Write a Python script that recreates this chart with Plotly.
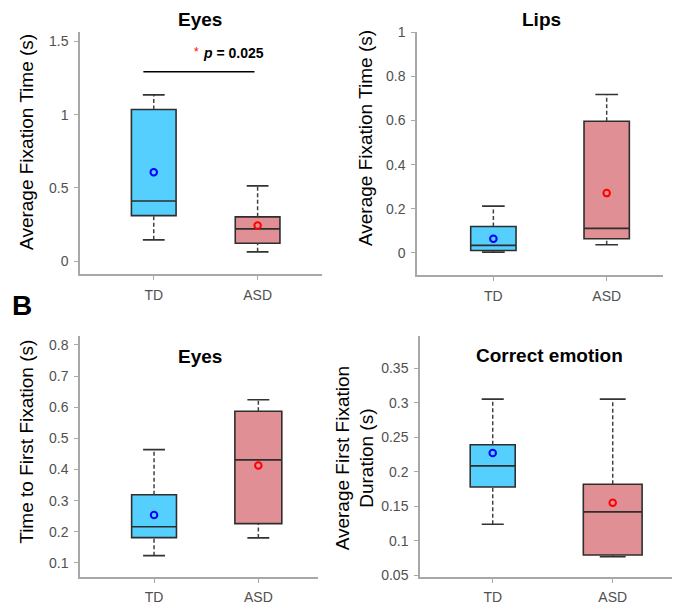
import plotly.graph_objects as go

# page is 680x613; the HTML body has an 8px default margin around the figure
PAGE_W, PAGE_H = 680, 613
OFF = 8
W, H = PAGE_W - 2 * OFF, PAGE_H - 2 * OFF

# ---------------- data ----------------
groups = ["TD", "ASD"]
group_pos = [0, 1]

# A: Average fixation time - Eyes
eyes_fix_lower = [0.145, 0.063]
eyes_fix_q1 = [0.310, 0.122]
eyes_fix_median = [0.410, 0.220]
eyes_fix_q3 = [1.035, 0.302]
eyes_fix_upper = [1.135, 0.513]
eyes_fix_mean = [0.607, 0.242]

# A: Average fixation time - Lips
lips_fix_lower = [0.004, 0.037]
lips_fix_q1 = [0.011, 0.064]
lips_fix_median = [0.034, 0.111]
lips_fix_q3 = [0.120, 0.597]
lips_fix_upper = [0.212, 0.718]
lips_fix_mean = [0.064, 0.271]

# B: Time to first fixation - Eyes
eyes_ttff_lower = [0.123, 0.180]
eyes_ttff_q1 = [0.181, 0.226]
eyes_ttff_median = [0.216, 0.431]
eyes_ttff_q3 = [0.319, 0.587]
eyes_ttff_upper = [0.464, 0.624]
eyes_ttff_mean = [0.254, 0.413]

# B: Average first fixation duration - Correct emotion
emo_ffd_lower = [0.124, 0.077]
emo_ffd_q1 = [0.178, 0.0795]
emo_ffd_median = [0.2085, 0.142]
emo_ffd_q3 = [0.239, 0.182]
emo_ffd_upper = [0.305, 0.305]
emo_ffd_mean = [0.227, 0.155]

# significance annotation (panel Eyes, fixation time)
sig_span = [-0.10, 0.97]
sig_level = 1.293
sig_text = "<b><i>p</i> = 0.025</b>"

# tick labels
ticks_eyes_fix = [0, 0.5, 1, 1.5]
ticklabels_eyes_fix = ["0", "0.5", "1", "1.5"]
ticks_lips_fix = [0, 0.2, 0.4, 0.6, 0.8, 1.0]
ticklabels_lips_fix = ["0", "0.2", "0.4", "0.6", "0.8", "1"]
ticks_eyes_ttff = [0.1, 0.2, 0.3, 0.4, 0.5, 0.6, 0.7, 0.8]
ticklabels_eyes_ttff = ["0.1", "0.2", "0.3", "0.4", "0.5", "0.6", "0.7", "0.8"]
ticks_emo_ffd = [0.05, 0.1, 0.15, 0.2, 0.25, 0.3, 0.35]
ticklabels_emo_ffd = ["0.05", "0.1", "0.15", "0.2", "0.25", "0.3", "0.35"]

# ---------------- style ----------------
fill_colors = ["#55CFFD", "#E09094"]
mean_colors = ["#0000FF", "#FF0000"]
FONT = "Arial, Liberation Sans, sans-serif"
AXIS_COLOR = "#A8A8A8"
TICK_FONT_COLOR = "#505050"


def fx(p):
    return min(max((p - OFF) / W, 0), 1)


def fy(p):
    return min(max(1 - (p - OFF) / H, 0), 1)


panels = [
    dict(lower=eyes_fix_lower, q1=eyes_fix_q1, med=eyes_fix_median, q3=eyes_fix_q3,
         upper=eyes_fix_upper, mean=eyes_fix_mean, widths=[0.43, 0.43], caps=[0.105, 0.105],
         xrange=[-0.71, 1.62], yrange=[-0.087, 1.567], tv=ticks_eyes_fix, tt=ticklabels_eyes_fix,
         xdom=[80, 322], ydom=[25, 273]),
    dict(lower=lips_fix_lower, q1=lips_fix_q1, med=lips_fix_median, q3=lips_fix_q3,
         upper=lips_fix_upper, mean=lips_fix_mean, widths=[0.40, 0.40], caps=[0.10, 0.10],
         xrange=[-0.674, 1.497], yrange=[-0.099, 1.003], tv=ticks_lips_fix, tt=ticklabels_lips_fix,
         xdom=[417, 663], ydom=[25, 274]),
    dict(lower=eyes_ttff_lower, q1=eyes_ttff_q1, med=eyes_ttff_median, q3=eyes_ttff_q3,
         upper=eyes_ttff_upper, mean=eyes_ttff_mean, widths=[0.43, 0.45], caps=[0.105, 0.105],
         xrange=[-0.71, 1.572], yrange=[0.053, 0.828], tv=ticks_eyes_ttff, tt=ticklabels_eyes_ttff,
         xdom=[80, 318], ydom=[337, 584]),
    dict(lower=emo_ffd_lower, q1=emo_ffd_q1, med=emo_ffd_median, q3=emo_ffd_q3,
         upper=emo_ffd_upper, mean=emo_ffd_mean, widths=[0.375, 0.49], caps=[0.092, 0.108],
         xrange=[-0.606, 1.494], yrange=[0.047, 0.396], tv=ticks_emo_ffd, tt=ticklabels_emo_ffd,
         xdom=[420, 672], ydom=[337, 584]),
]

fig = go.Figure()
layout_axes = {}

for k, p in enumerate(panels, start=1):
    sfx = "" if k == 1 else str(k)
    xa, ya = "x" + sfx, "y" + sfx
    for i, pos in enumerate(group_pos):
        # dashed whiskers
        fig.add_trace(go.Scatter(
            x=[pos, pos, None, pos, pos],
            y=[p["q3"][i], p["upper"][i], None, p["lower"][i], p["q1"][i]],
            mode="lines", line=dict(color="#404040", width=1.5, dash="4px,2.5px"),
            xaxis=xa, yaxis=ya, showlegend=False, hoverinfo="skip"))
        # caps
        c = p["caps"][i]
        fig.add_trace(go.Scatter(
            x=[pos - c, pos + c, None, pos - c, pos + c],
            y=[p["upper"][i], p["upper"][i], None, p["lower"][i], p["lower"][i]],
            mode="lines", line=dict(color="#333333", width=1.7),
            xaxis=xa, yaxis=ya, showlegend=False, hoverinfo="skip"))
        # box
        fig.add_trace(go.Box(
            x=[pos], q1=[p["q1"][i]], median=[p["med"][i]], q3=[p["q3"][i]],
            lowerfence=[p["q1"][i]], upperfence=[p["q3"][i]],
            width=p["widths"][i], whiskerwidth=0, boxpoints=False,
            fillcolor=fill_colors[i], line=dict(color="#2E2E2E", width=1.6),
            xaxis=xa, yaxis=ya, showlegend=False, hoverinfo="skip"))
        # mean
        fig.add_trace(go.Scatter(
            x=[pos], y=[p["mean"][i]], mode="markers",
            marker=dict(symbol="circle-open", size=6.5, color=mean_colors[i],
                        line=dict(width=2, color=mean_colors[i])),
            xaxis=xa, yaxis=ya, showlegend=False, hoverinfo="skip"))

    common = dict(showline=True, linecolor=AXIS_COLOR, linewidth=1.5, ticks="outside",
                  ticklen=4, tickcolor=AXIS_COLOR, tickwidth=1, showgrid=False, zeroline=False,
                  tickfont=dict(family=FONT, size=14, color=TICK_FONT_COLOR), mirror=False)
    layout_axes["xaxis" + sfx] = dict(
        common, domain=[fx(p["xdom"][0]), fx(p["xdom"][1])], range=p["xrange"],
        tickvals=group_pos, ticktext=groups, anchor=ya,
        ticklabelstandoff=4 if k <= 2 else 2)
    layout_axes["yaxis" + sfx] = dict(
        common, domain=[fy(p["ydom"][1]), fy(p["ydom"][0])], range=p["yrange"],
        tickvals=p["tv"], ticktext=p["tt"], anchor=xa, ticklabelstandoff=3)

# significance bar
fig.add_trace(go.Scatter(x=sig_span, y=[sig_level, sig_level], mode="lines",
                         line=dict(color="black", width=1.5), xaxis="x", yaxis="y",
                         showlegend=False, hoverinfo="skip"))

annotations = []


def ann(text, x, y, size, angle=0, color="black"):
    annotations.append(dict(text=text, x=fx(x), y=fy(y), xref="paper", yref="paper",
                            showarrow=False, xanchor="center", yanchor="middle",
                            textangle=angle, font=dict(family=FONT, size=size, color=color)))


ann("<b>Eyes</b>", 200, 13, 19)
ann("<b>Lips</b>", 541, 13, 19)
ann("<b>Eyes</b>", 200, 358, 19)
ann("<b>Correct emotion</b>", 549, 357, 19)
ann("Average Fixation Time (s)", 27, 138, 19, -90)
ann("Average Fixation Time (s)", 365, 134, 19, -90)
ann("Time to First Fixation (s)", 27, 445, 19, -90)
ann("Average First Fixation<br>Duration (s)", 355, 462, 19, -90)
ann("<b>B</b>", 22, 305, 28)
ann("*", 196, 46, 12, color="#FF0000")
ann(sig_text, 233, 47, 14)

fig.update_layout(
    width=W, height=H, autosize=False,
    margin=dict(l=0, r=0, t=0, b=0),
    paper_bgcolor="white", plot_bgcolor="white",
    boxmode="overlay", annotations=annotations,
    **layout_axes)

fig.write_html("out.html")
